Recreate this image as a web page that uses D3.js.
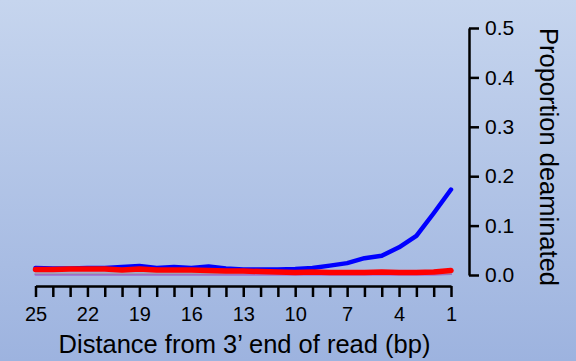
<!DOCTYPE html>
<html>
<head>
    <meta charset="utf-8" />
    <script src="https://cdn.jsdelivr.net/npm/d3@7"></script>
    <style>
        body { margin: 0; }
        svg { display: block; }
    </style>
</head>
<body>
    <script>
        // distance from 3' end, 25 down to 1
        var positions = [25, 24, 23, 22, 21, 20, 19, 18, 17, 16, 15, 14, 13,
                         12, 11, 10, 9, 8, 7, 6, 5, 4, 3, 2, 1];

        var blueValues = [0.014, 0.013, 0.013, 0.014, 0.014, 0.016, 0.018, 0.014, 0.016, 0.014,
                          0.017, 0.013, 0.011, 0.011, 0.011, 0.012, 0.014, 0.019, 0.024, 0.034,
                          0.039, 0.056, 0.079, 0.125, 0.173];

        var redValues = [0.011, 0.011, 0.012, 0.012, 0.012, 0.010, 0.012, 0.010, 0.010, 0.010,
                         0.009, 0.008, 0.008, 0.007, 0.006, 0.005, 0.006, 0.005, 0.005, 0.005,
                         0.006, 0.005, 0.005, 0.006, 0.009];

        var greyValues = [0.003, 0.003, 0.003, 0.003, 0.003, 0.003, 0.003, 0.003, 0.003, 0.003,
                          0.003, 0.003, 0.003, 0.003, 0.003, 0.003, 0.003, 0.003, 0.003, 0.003,
                          0.003, 0.003, 0.003, 0.003, 0.003];

        var purpleValues = [0.001, 0.001, 0.001, 0.001, 0.001, 0.001, 0.001, 0.001, 0.001, 0.001,
                            0.001, 0.001, 0.001, 0.001, 0.001, 0.001, 0.001, 0.001, 0.001, 0.001,
                            0.001, 0.001, 0.001, 0.001, 0.002];

        var xTickLabels = [25, 22, 19, 16, 13, 10, 7, 4, 1];
        var yTickLabels = [0, 0.1, 0.2, 0.3, 0.4, 0.5];

        var w = 576;
        var h = 361;
        var font = "Liberation Sans, Arial, sans-serif";

        var xScale = d3.scaleLinear().domain([25, 1]).range([35.5, 451]);
        var yScale = d3.scaleLinear().domain([0, 0.5]).range([275, 28]);

        var svg = d3.select("body").append("svg")
            .attr("width", w)
            .attr("height", h);

        // background gradient
        var grad = svg.append("defs").append("linearGradient")
            .attr("id", "bg")
            .attr("x1", 0).attr("y1", 0).attr("x2", 0).attr("y2", 1);
        grad.append("stop").attr("offset", "0%").attr("stop-color", "#c6d5ee");
        grad.append("stop").attr("offset", "100%").attr("stop-color", "#9db3df");

        svg.append("rect")
            .attr("width", w).attr("height", h)
            .attr("fill", "url(#bg)");

        var line = d3.line()
            .x(function (d, i) { return xScale(positions[i]); })
            .y(function (d) { return yScale(d); });

        // blue first, the others on top of it
        var series = [
            { values: blueValues, color: "#0000ff", width: 4.5 },
            { values: purpleValues, color: "#9a44d0", width: 2 },
            { values: greyValues, color: "#a0a0b0", width: 2 },
            { values: redValues, color: "#ff0000", width: 5.5 }
        ];

        series.forEach(function (s) {
            svg.append("path").datum(s.values)
                .attr("d", line).attr("fill", "none")
                .attr("stroke", s.color).attr("stroke-width", s.width)
                .attr("stroke-linejoin", "round").attr("stroke-linecap", "round");
        });

        //X axis
        var xAxis = d3.axisBottom(xScale)
            .tickValues(positions)
            .tickSize(11)
            .tickSizeOuter(0)
            .tickFormat(function (d) { return xTickLabels.indexOf(d) >= 0 ? d : ""; });

        var gx = svg.append("g")
            .attr("transform", "translate(0,286)")
            .call(xAxis);
        gx.select(".domain").attr("stroke", "#000").attr("stroke-width", 2.5);
        gx.selectAll(".tick line").attr("stroke", "#000").attr("stroke-width", 2.5);
        gx.selectAll(".tick text")
            .attr("font-family", font)
            .attr("font-size", "20px")
            .attr("fill", "#000")
            .attr("y", 35)
            .attr("dy", 0);

        //Y axis on the right
        var yAxis = d3.axisRight(yScale)
            .tickValues(yTickLabels)
            .tickSize(10)
            .tickSizeOuter(0)
            .tickFormat(d3.format(".1f"));

        var gy = svg.append("g")
            .attr("transform", "translate(469,0)")
            .call(yAxis);
        gy.select(".domain").attr("stroke", "#000").attr("stroke-width", 2.5);
        gy.selectAll(".tick line").attr("stroke", "#000").attr("stroke-width", 2.5);
        gy.selectAll(".tick text")
            .attr("font-family", font)
            .attr("font-size", "21px")
            .attr("fill", "#000")
            .attr("x", 16);

        //Axis titles
        svg.append("text")
            .attr("x", 244.5)
            .attr("y", 353)
            .attr("text-anchor", "middle")
            .attr("font-family", font)
            .attr("font-size", "25.5px")
            .attr("fill", "#000")
            .text("Distance from 3\u2019 end of read (bp)");

        svg.append("text")
            .attr("transform", "translate(540,157) rotate(90)")
            .attr("text-anchor", "middle")
            .attr("font-family", font)
            .attr("font-size", "25.5px")
            .attr("fill", "#000")
            .text("Proportion deaminated");
    </script>
</body>
</html>
